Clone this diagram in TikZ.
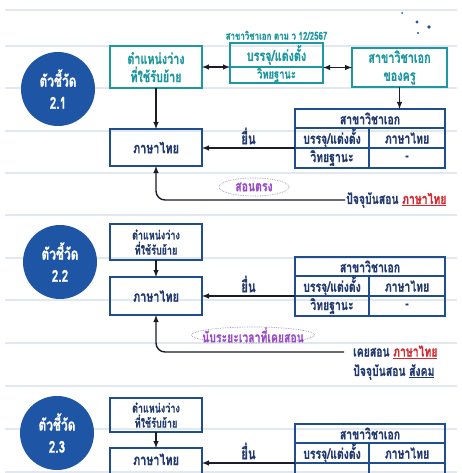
\documentclass[tikz,border=0pt]{standalone}
\usepackage{fontspec}
\newfontfamily\thai[Script=Thai,FakeStretch=0.72,BoldFont={* Bold},BoldFeatures={FakeBold=0.6}]{Loma}
\usepackage{xcolor}
\usepackage{tikz}
\usetikzlibrary{positioning,arrows,shapes.geometric}
\definecolor{tealc}{HTML}{1B98A0}
\definecolor{navyc}{HTML}{1F4E8F}
\definecolor{navyt}{HTML}{223A70}
\definecolor{badgec}{HTML}{1E55A5}
\definecolor{purplec}{HTML}{9A4DC8}
\definecolor{ovalc}{HTML}{A08CB8}
\definecolor{redc}{HTML}{D8282E}
\definecolor{darkc}{HTML}{1A1C2A}
\definecolor{rulec}{HTML}{E2E8F0}

\begin{document}
\begin{tikzpicture}[x=1pt,y=-1pt,
  badge/.style={
   circle,
   fill=badgec,
   text=white,
   minimum size=74pt,
   align=center,
   font=\thai\bfseries\fontsize{16.5}{22}\selectfont
  },
  tbox/.style={
    draw=tealc,
    line width=1.6pt,
    text=tealc,
    align=center,
    inner sep=0pt,
    outer sep=0pt,
    font=\thai\bfseries\fontsize{15}{18}\selectfont
  },
  nbox/.style={
    draw=navyc,
    line width=1.2pt,
    text=navyt,
    align=center,
    inner sep=0pt,
    outer sep=0pt,
    minimum width=92pt,
    font=\thai\bfseries\fontsize{12.5}{15}\selectfont
  },
  cell/.style={
    draw=navyc,
    line width=1.2pt,
    text=navyt,
    inner sep=0pt,
    outer sep=0pt,
    minimum height=20pt,
    font=\thai\bfseries\fontsize{14.5}{15}\selectfont
  },
  oval/.style={
    ellipse,
    draw=ovalc,
    densely dotted,
    line width=0.7pt,
    text=purplec,
    inner xsep=-20pt,
    inner ysep=-3pt,
    font=\thai\bfseries\fontsize{14.5}{15}\selectfont
  },
  note/.style={
    text=navyt,
    inner sep=1pt,
    font=\thai\bfseries\fontsize{14.5}{16}\selectfont
  },
  link/.style={-latex, line width=1.4pt, draw=darkc},
  dlink/.style={latex-latex, line width=1.4pt, draw=darkc}]
	\clip (0,0) rectangle (462,473);
	\fill[white] (0,0) rectangle (462,473);
	\foreach \y in {10,46,88,131,173,215,258,300,343,386,429,472}
		\draw[rulec, line width=1.3pt] (5,\y) -- (457,\y);
	\fill[badgec] (417,22) circle (1.6pt) (429,27) circle (1.8pt) (418,33) circle (1.2pt) (402,13) circle (1pt);

	% 2.1
	\node[badge] (badgeA) at (58,89) {ตัวชี้วัด\\2.1};
	\node[tbox, minimum width=92pt, minimum height=42pt] (vacA) at (156,67) 
		  {ตำแหน่งว่าง\\ที่ใช้รับย้าย};
	\node[tbox, minimum width=93pt, minimum height=24pt, anchor=north west] (rankA) at (230,43) 
		  {บรรจุ/แต่งตั้ง};
	\node[tbox, minimum width=93pt, minimum height=16pt, below=0pt of rankA, font=\thai\bfseries\fontsize{13}{14}\selectfont] (gradeA) 
		  {วิทยฐานะ};
	\node[text=tealc, inner sep=1pt, above=2pt of rankA, font=\thai\bfseries\fontsize{11}{12}\selectfont] (capA) 
		  {สาขาวิชาเอก ตาม ว 12/2567};
	\node[tbox, minimum width=95pt, minimum height=39pt] (majorA) at (399.5,67.5) 
		  {สาขาวิชาเอก\\ของครู};
	\node[nbox, minimum height=37pt, below=41pt of vacA, font=\thai\bfseries\fontsize{15}{16}\selectfont] (thaiA) 
		  {ภาษาไทย};
	\node[note, anchor=west] (nowA) at (345,200) 
		  {ปัจจุบันสอน \textcolor{redc}{\underline{ภาษาไทย}}};
	\node[oval, minimum width=70pt, minimum height=18pt] (ovalA) at (254,187) {สอนตรง};

	% 2.2
	\node[badge] (badgeB) at (60,262) {ตัวชี้วัด\\2.2};
	\node[nbox, minimum height=36pt] (vacB) at (156,242) 
		  {ตำแหน่งว่าง\\ที่ใช้รับย้าย};
	\node[nbox, minimum height=38pt, below=17pt of vacB, font=\thai\bfseries\fontsize{15}{16}\selectfont] (thaiB) 
		  {ภาษาไทย};
	\node[oval, minimum width=123pt, minimum height=16pt] (ovalB) at (253,335) {นับระยะเวลาที่เคยสอน};
	\node[note, anchor=west] (wasB) at (352,352) 
		  {เคยสอน \textcolor{redc}{\underline{ภาษาไทย}}};
	\node[note, anchor=west] (nowB) at (352,372) 
		  {ปัจจุบันสอน \underline{สังคม}};

	% 2.3
	\node[badge] (badgeC) at (57,433) {ตัวชี้วัด\\2.3};
	\node[nbox, minimum height=34pt] (vacC) at (156,415) 
		  {ตำแหน่งว่าง\\ที่ใช้รับย้าย};
	\node[nbox, minimum height=44pt, below=16pt of vacC, font=\thai\bfseries\fontsize{15}{16}\selectfont] (thaiC) 
		  {\raisebox{5pt}[0pt][0pt]{ภาษาไทย}};

	\foreach \s/\t/\g/\d in {A/109/วิทยฐานะ/-,B/257/วิทยฐานะ/-,C/424//}{
		\node[cell, minimum width=150pt, minimum height=19pt, anchor=north west] (hd\s) at (295,\t) {สาขาวิชาเอก};
		\node[cell, minimum width=74pt, anchor=north west] (p\s) at (hd\s.south west) {บรรจุ/แต่งตั้ง};
		\node[cell, minimum width=76pt, anchor=north west] (l\s) at (p\s.north east) {ภาษาไทย};
		\node[cell, minimum width=74pt, anchor=north west] (g\s) at (p\s.south west) {\g};
		\node[cell, minimum width=76pt, anchor=north west] (d\s) at (l\s.south west) {\d};
		\draw[link] (p\s.south west) -- node[note, above=2pt, font=\thai\bfseries\fontsize{16}{17}\selectfont] (sub\s) {ยื่น} (p\s.south west -| thai\s.east);
		\draw[link] (vac\s) -- (thai\s);
	}

	\draw[dlink] (vacA.east) -- (vacA.east -| rankA.west);
	\draw[dlink] (majorA.west -| rankA.east) -- (majorA.west);
	\draw[link] (majorA.south) -- (majorA.south |- hdA.north);
	\draw[link, rounded corners=9pt] (nowA.west) -| (thaiA.south);
	\draw[link, rounded corners=9pt] ([xshift=-8pt]wasB.west) -| (thaiB.south);
\end{tikzpicture}
\end{document}
